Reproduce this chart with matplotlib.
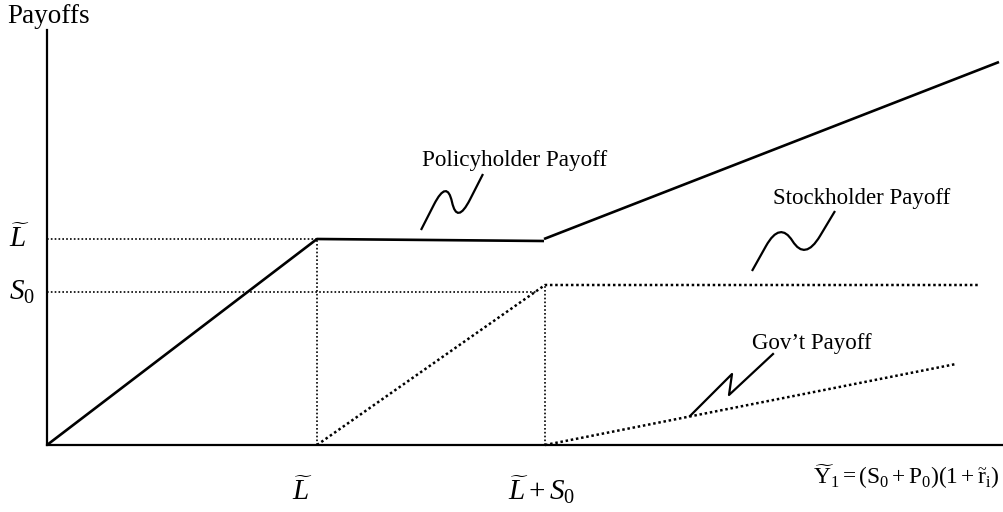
import numpy as np
import matplotlib
matplotlib.use("Agg")
import matplotlib.pyplot as plt
from matplotlib.path import Path
from matplotlib.patches import PathPatch

plt.rcParams['font.family'] = ['Liberation Serif', 'DejaVu Serif']
plt.rcParams['mathtext.fontset'] = 'custom'
plt.rcParams['mathtext.rm'] = 'Liberation Serif'
plt.rcParams['mathtext.it'] = 'Liberation Serif:italic'

# payoff kinks (x = terminal value, y = payoff), arbitrary units
policy_x = [0, 270, 497]
policy_y = [0, 206, 204]
total_x = [497, 952]
total_y = [206, 383]
stock_x = [270, 498, 932]
stock_y = [0, 160, 160]
gov_x = [498, 909]
gov_y = [0, 81]

L_level = 206
S0_level = 153
L_x = 270
LS_x = 498

# leader squiggles: start, hump, dip, end
policy_squig = [(374, 215), (400, 266), (410, 220), (436, 271)]
stock_squig = [(705, 174), (733, 224), (758, 184), (788, 234)]
gov_squig = [(643, 29), (685, 71), (682, 50), (726, 91)]


def squiggle(pts):
    p = np.array(pts, dtype=float)
    m1 = (p[0] + p[1]) / 2
    m2 = (p[1] + p[2]) / 2
    m3 = (p[2] + p[3]) / 2
    verts = [p[0], m1, p[1], m2, p[2], m3, p[3]]
    codes = [Path.MOVETO, Path.LINETO, Path.CURVE3, Path.CURVE3,
             Path.CURVE3, Path.CURVE3, Path.LINETO]
    return Path(verts, codes)


W, H = 1004, 512
fig = plt.figure(figsize=(W / 100, H / 100), dpi=100)
ax = fig.add_axes([47 / W, (H - 445) / H, (W - 47) / W, (445 - 30) / H])
ax.set_xlim(0, W - 47)
ax.set_ylim(0, 415)
for s in ["top", "right"]:
    ax.spines[s].set_visible(False)
for s in ["left", "bottom"]:
    ax.spines[s].set_linewidth(1.6)
ax.set_xticks([])
ax.set_yticks([])

solid = dict(color="black", lw=1.9, solid_capstyle="butt", clip_on=False)
dots = dict(color="black", lw=1.8, linestyle=(0, (1, 1.1)), clip_on=False)
guide = dict(color="black", lw=1.2, linestyle=(0, (1, 1.3)), clip_on=False)

# guides
ax.plot([0, L_x], [L_level, L_level], **guide)
ax.plot([L_x, L_x], [0, L_level], **guide)
ax.plot([0, 490], [S0_level, S0_level], **guide)
ax.plot([LS_x, LS_x], [0, stock_y[-1]], **guide)

# payoffs
ax.plot(policy_x, policy_y, **solid)
ax.plot(total_x, total_y, **solid)
ax.plot(stock_x, stock_y, **dots)
ax.plot(gov_x, gov_y, **dots)

# squiggles
for pts in [policy_squig, stock_squig]:
    ax.add_patch(PathPatch(squiggle(pts), fill=False, lw=1.6, ec="black", clip_on=False))
gx, gy = zip(*gov_squig)
ax.plot(gx, gy, color="black", lw=1.6, solid_joinstyle="round", clip_on=False)

fs = 16.7
ms = 21
ax.text(468, 279, "Policyholder Payoff", ha="center", va="baseline", fontsize=fs)
ax.text(815, 241, "Stockholder Payoff", ha="center", va="baseline", fontsize=16.5)
ax.text(765, 96, "Gov\u2019t Payoff", ha="center", va="baseline", fontsize=16.5)
ax.text(2, 422, "Payoffs", ha="center", va="baseline", fontsize=19.5, clip_on=False)

ax.text(-28, L_level, r"$\widetilde{L}$", ha="center", va="center", fontsize=ms)
ax.text(-25, S0_level, r"$S_0$", ha="center", va="center", fontsize=ms)
ax.text(255, -55, r"$\widetilde{L}$", ha="center", va="baseline", fontsize=ms)
ax.text(495, -55, r"$\widetilde{L} + S_0$", ha="center", va="baseline", fontsize=ms)
ax.text(766, -39,
        r"$\widetilde{\mathrm{Y}}_1 = (\mathrm{S}_0 + \mathrm{P}_0)(1 + \widetilde{\mathrm{r}}_\mathrm{i})$",
        ha="left", va="baseline", fontsize=16.8)

fig.savefig("out.png", dpi=100)
